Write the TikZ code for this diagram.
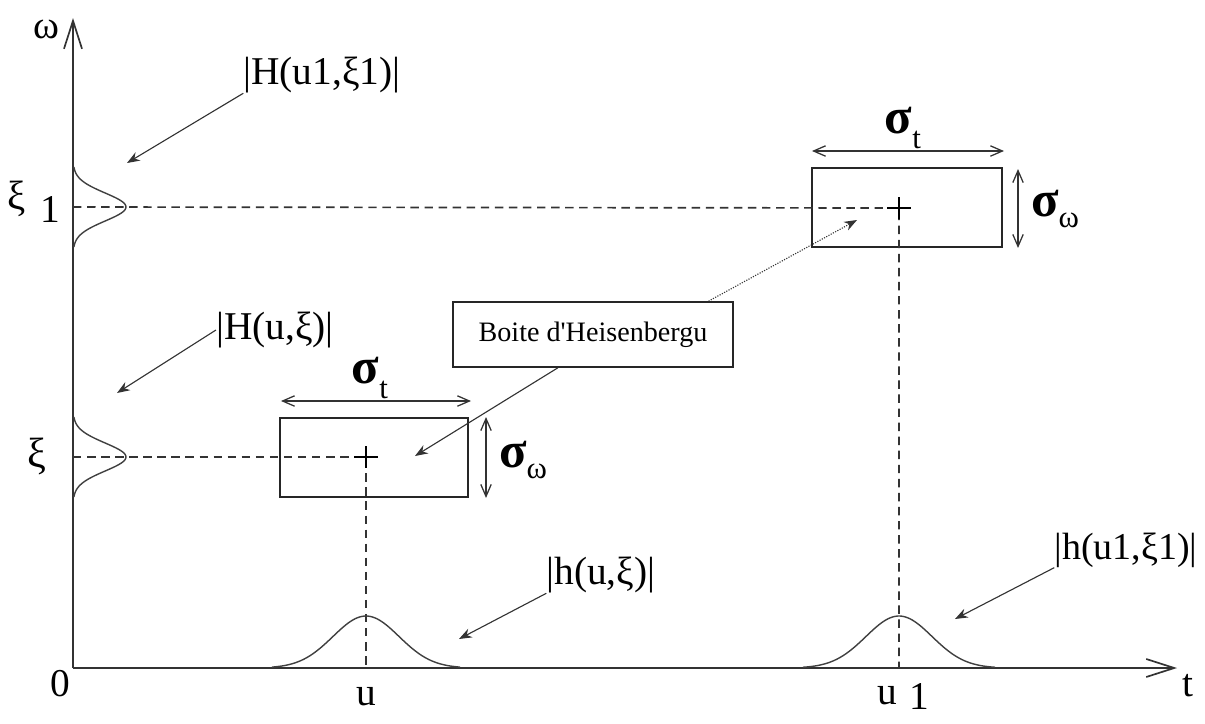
\documentclass[tikz,border=0pt]{standalone}
\usepackage{fontspec}
\setmainfont{Liberation Serif}
\usetikzlibrary{arrows.meta, calc}

\newcommand{\sigsub}[2]{{\fontsize{36}{36}\selectfont\bfseries σ}\raisebox{#2}{\fontsize{22}{22}\selectfont #1}}

\begin{document}
\begin{tikzpicture}[
    x=0.025cm, y=-0.025cm,
    axis/.style={line width=1.8pt, draw=black!80,
                 -{Straight Barb[length=7mm, width=4.5mm, line width=1.2pt]}},
    guide/.style={line width=1.2pt, draw=black!80, dash pattern=on 6pt off 4pt},
    hbox/.style={draw=black!85, line width=1.4pt, minimum width=4.7cm,
                 minimum height=1.975cm, inner sep=0pt},
    spread/.style={line width=0.9pt, draw=black!80,
                   {Straight Barb[length=3mm, width=2.6mm]}-{Straight Barb[length=3mm, width=2.6mm]}},
    pointer/.style={line width=0.8pt, draw=black!80, -{Stealth[length=3.2mm, width=2.4mm]}},
    bump/.style={line width=1pt, draw=black!75},
    lbl/.style={font=\fontsize{28}{28}\selectfont, inner sep=0pt},
    sig/.style={inner sep=0pt},
    >=Stealth
  ]

  \useasboundingbox (0,0) rectangle (1205,724);

  % Axes
  \coordinate (O) at (73,668);
  \coordinate (wtop) at (73,18);
  \coordinate (tend) at (1177,668);
  \draw[axis] (O) -- (wtop);
  \draw[axis] (O) -- (tend);

  \node[lbl] (wlab) at (46,29) {ω};
  \node[lbl] (tlab) at (1188,686) {t};
  \node[lbl] (olab) at (60,684) {0};
  \node[lbl, anchor=base] (ulab) at (366,705) {u};
  \node[lbl, anchor=base west] (uonelab) at (877,704) {u\hspace{9pt}\raisebox{-4pt}{1}};
  \node[lbl, font=\fontsize{30}{30}\selectfont] (xilab) at (37,456) {ξ};
  \node[lbl, font=\fontsize{29}{29}\selectfont] (xionelab) at (17,199) {ξ};
  \node[lbl] (onelab) at (50,210) {1};

  % Levels on the axes
  \coordinate (xi) at (73,457);
  \coordinate (xione) at (73,207);
  \coordinate (u) at (366,668);
  \coordinate (uone) at (899,668);

  % Heisenberg boxes
  \node[hbox] (box1) at (374,457.5) {};
  \node[hbox, minimum width=4.75cm] (box2) at (907,207.5) {};
  \coordinate (c1) at (366,457);
  \coordinate (c2) at (899,208);

  \draw[guide] (xi) -- (c1) -- (u);
  \draw[guide] (xione) -- (c2) -- (uone);
  \draw[line width=1pt] (c1) ++(-12,0) -- ++(24,0);
  \draw[line width=1pt] (c1) ++(0,-11) -- ++(0,22);
  \draw[line width=1pt] (c2) ++(-12,0) -- ++(24,0);
  \draw[line width=1pt] (c2) ++(0,-11) -- ++(0,22);

  % Widths
  \draw[spread] ($(box1.north west)+(2,-16)$) -- ($(box1.north east)+(2,-16)$);
  \draw[spread] ($(box1.north east)+(17,0)$) -- ($(box1.south east)+(17,0)$);
  \draw[spread] ($(box2.north west)+(1,-16)$) -- ($(box2.north east)+(1,-16)$);
  \draw[spread] ($(box2.north east)+(15,2)$) -- ($(box2.south east)+(15,0)$);
  \node[sig] (st1) at (370,378) {\sigsub{t}{-11pt}};
  \node[sig] (sw1) at (523,460) {\sigsub{ω}{-8pt}};
  \node[sig] (st2) at (903,128) {\sigsub{t}{-11pt}};
  \node[sig] (sw2) at (1055,209) {\sigsub{ω}{-8pt}};

  % Windows
  \draw[bump] plot[domain=-94:94, samples=80] ({366+\x}, {668-52*exp(-0.5*(\x/33)^2)});
  \draw[bump] plot[domain=-96:96, samples=80] ({899+\x}, {668-52*exp(-0.5*(\x/33)^2)});
  \draw[bump] plot[domain=-40:40, samples=60] ({73+53*exp(-0.5*(\x/14)^2)}, {457+\x});
  \draw[bump] plot[domain=-40:40, samples=60] ({73+53*exp(-0.5*(\x/14)^2)}, {207+\x});

  % Labels with pointers
  \node[lbl] (Hone) at (322,75) {|H(u1,ξ1)|};
  \node[lbl] (Hu) at (275,330) {|H(u,ξ)|};
  \node[lbl] (hu) at (601,575) {|h(u,ξ)|};
  \node[lbl, font=\fontsize{27}{27}\selectfont] (hone) at (1126,550) {|h(u1,ξ1)|};
  \coordinate (Honetip) at (127,163);
  \coordinate (Hutip) at (117,393);
  \coordinate (hutip) at (459,639);
  \coordinate (honetip) at (955,619);
  \draw[pointer] (Hone.south west) -- (Honetip);
  \draw[pointer] (Hu.west) -- (Hutip);
  \draw[pointer] (hu.south west) -- (hutip);
  \draw[pointer] (hone.south west) -- (honetip);

  \node[draw=black!85, line width=1.2pt, minimum width=7cm, minimum height=1.625cm,
        font=\fontsize{20}{20}\selectfont] (boite) at (593,334.5) {Boite d\textquotesingle Heisenbergu};
  \coordinate (tipA) at (415,456);
  \coordinate (tipB) at (857,220);
  \draw[pointer] ($(boite.south west)!0.375!(boite.south east)$) -- (tipA);
  \draw[pointer, densely dotted] ($(boite.north west)!0.91!(boite.north east)$) -- (tipB);

\end{tikzpicture}
\end{document}
